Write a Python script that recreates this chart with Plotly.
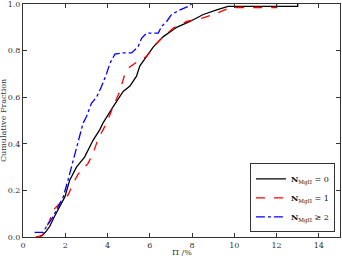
import plotly.graph_objects as go

# N_MgII = 0 (black, solid)
x0 = [0.75, 0.95, 1.1, 1.26, 1.5, 1.75, 1.98, 2.21, 2.53, 2.92, 3.16, 3.32, 3.63, 3.79, 4.27,
      4.74, 5.06, 5.37, 5.53, 5.85, 6.16, 6.64, 7.27, 7.9, 8.53, 9.17, 9.7, 13.0, 13.0]
y0 = [0.0, 0.01, 0.025, 0.045, 0.09, 0.13, 0.172, 0.244, 0.30, 0.344, 0.387, 0.416, 0.46, 0.49, 0.56,
      0.625, 0.648, 0.69, 0.735, 0.775, 0.815, 0.86, 0.90, 0.925, 0.955, 0.975, 0.99, 0.99, 1.0]

# N_MgII = 1 (red, dashed)
x1 = [0.6, 0.9, 1.03, 1.26, 1.42, 1.74, 2.13, 2.37, 2.61, 3.08, 3.32, 3.55, 3.95, 4.27, 4.58,
      4.82, 5.05, 5.37, 5.85, 6.16, 6.48, 7.11, 7.74, 8.53, 9.17, 9.8, 12.0, 12.0]
y1 = [0.0, 0.005, 0.03, 0.07, 0.115, 0.145, 0.18, 0.23, 0.27, 0.316, 0.36, 0.42, 0.488, 0.56, 0.625,
      0.70, 0.73, 0.75, 0.775, 0.815, 0.846, 0.897, 0.925, 0.94, 0.96, 0.985, 0.985, 1.0]

# N_MgII >= 2 (blue, dash-dot)
x2 = [0.55, 0.95, 1.1, 1.42, 1.58, 1.9, 2.13, 2.37, 2.61, 2.84, 3.0, 3.24, 3.48, 3.71, 3.95, 4.11,
      4.35, 4.74, 5.14, 5.45, 5.61, 5.85, 6.4, 6.56, 6.8, 7.03, 7.43, 7.82, 7.98]
y2 = [0.02, 0.02, 0.043, 0.086, 0.115, 0.172, 0.244, 0.33, 0.416, 0.488, 0.516, 0.574, 0.60, 0.645,
      0.70, 0.745, 0.785, 0.79, 0.79, 0.817, 0.853, 0.875, 0.875, 0.904, 0.925, 0.955, 0.975, 0.99, 1.0]

names = ["<b>N</b><sub>MgII</sub> = 0", "<b>N</b><sub>MgII</sub> = 1", "<b>N</b><sub>MgII</sub> ≥ 2"]
xticks = [0, 2, 4, 6, 8, 10, 12, 14]
yticks = [0.0, 0.2, 0.4, 0.6, 0.8, 1.0]
xtitle = "Π /%"
ytitle = "Cumulative Fraction"

FONT = "DejaVu Serif"
TXT = "#333"

fig = go.Figure()
fig.add_trace(go.Scatter(x=x0, y=y0, mode="lines", name=names[0],
                         line=dict(color="black", width=1.3, dash="solid")))
fig.add_trace(go.Scatter(x=x1, y=y1, mode="lines", name=names[1],
                         line=dict(color="red", width=1.3, dash="dash")))
fig.add_trace(go.Scatter(x=x2, y=y2, mode="lines", name=names[2],
                         line=dict(color="blue", width=1.3, dash="dashdot")))

axis_common = dict(
    showgrid=False, zeroline=False, showline=True, linecolor="#333", linewidth=1,
    mirror="allticks", ticks="inside", ticklen=4, tickcolor="#333", automargin=False,
    tickfont=dict(family=FONT, size=8, color=TXT), ticklabeloverflow="allow",
)
fig.update_xaxes(range=[0, 15], tickvals=xticks, ticktext=[str(v) for v in xticks],
                 ticklabelstandoff=0, **axis_common)
fig.update_yaxes(range=[0, 1.0], tickvals=yticks, ticktext=[f"{v:.1f}" for v in yticks],
                 ticklabelstandoff=0, **axis_common)

fig.add_annotation(text=xtitle, xref="paper", yref="paper", x=0.5, y=0, yanchor="top",
                   yshift=-9, showarrow=False, font=dict(family=FONT, size=8, color=TXT))
fig.add_annotation(text=ytitle, xref="paper", yref="paper", x=0, y=0.5, xanchor="right",
                   xshift=-13, textangle=-90, showarrow=False,
                   font=dict(family=FONT, size=8, color=TXT))

fig.update_layout(
    width=342, height=256,
    margin=dict(l=23, r=2, t=4, b=19, autoexpand=False),
    plot_bgcolor="white", paper_bgcolor="white",
    legend=dict(x=0.984, y=0.02, xanchor="right", yanchor="bottom",
                bordercolor="#333", borderwidth=1, bgcolor="white",
                font=dict(family=FONT, size=8, color="#111"),
                itemwidth=30, tracegroupgap=0),
)

fig.write_html("out.html", config={"displayModeBar": False},
               post_script="document.body.style.margin='0';document.body.style.overflow='hidden';")
